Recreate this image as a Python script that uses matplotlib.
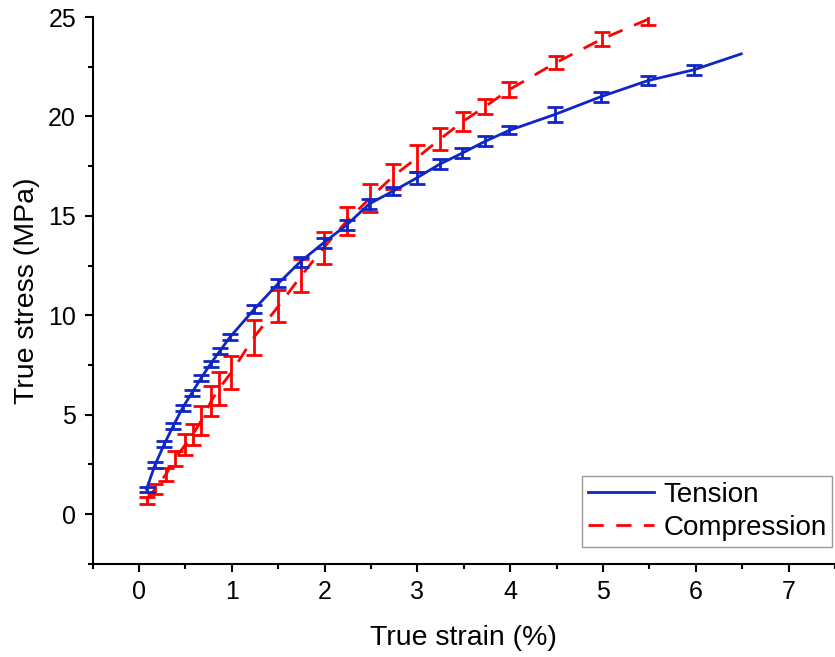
import numpy as np
import matplotlib
matplotlib.use("Agg")
import matplotlib.pyplot as plt
from matplotlib.ticker import MultipleLocator

plt.rcParams['font.family'] = ['Liberation Sans', 'DejaVu Sans']

# tension curve (blue), last point has no error bar
ten_x = [0.08, 0.17, 0.27, 0.37, 0.47, 0.57, 0.67, 0.77, 0.87, 0.98,
         1.24, 1.5, 1.74, 1.99, 2.24, 2.48, 2.74, 2.99, 3.24, 3.48,
         3.73, 3.99, 4.48, 4.98, 5.48, 5.98, 6.49]
ten_y = [1.25, 2.45, 3.5, 4.45, 5.35, 6.1, 6.85, 7.55, 8.2, 8.9,
         10.3, 11.6, 12.7, 13.65, 14.55, 15.6, 16.25, 16.9, 17.6, 18.15,
         18.75, 19.3, 20.1, 21.0, 21.8, 22.35, 23.15]
ten_err = [0.13, 0.15, 0.15, 0.15, 0.15, 0.15, 0.15, 0.15, 0.15, 0.15,
           0.2, 0.2, 0.25, 0.25, 0.25, 0.25, 0.2, 0.3, 0.25, 0.25,
           0.25, 0.2, 0.4, 0.25, 0.23, 0.25, np.nan]

# compression curve (red)
comp_x = [0.08, 0.17, 0.29, 0.39, 0.5, 0.58, 0.67, 0.78, 0.86, 0.99,
          1.24, 1.5, 1.75, 1.99, 2.24, 2.49, 2.74, 2.99, 3.24, 3.49,
          3.73, 3.99, 4.49, 4.99, 5.49]
comp_y = [0.68, 1.25, 2.0, 2.8, 3.5, 4.0, 4.7, 5.7, 6.3, 7.1,
          8.9, 10.45, 12.0, 13.4, 14.75, 15.9, 17.0, 17.9, 18.85, 19.75,
          20.5, 21.35, 22.7, 23.9, 24.9]
comp_err = [0.18, 0.25, 0.33, 0.37, 0.55, 0.55, 0.75, 0.75, 0.83, 0.83,
            0.88, 0.8, 0.83, 0.8, 0.7, 0.7, 0.63, 0.67, 0.55, 0.46,
            0.4, 0.37, 0.33, 0.33, 0.3]

blue = '#0f26c4'
red = '#ff0000'

fig = plt.figure(figsize=(8.35, 6.57), dpi=100)
ax = fig.add_axes([0.111, 0.142, 0.889, 0.832])

ax.plot(ten_x, ten_y, color=blue, lw=2.0, label='Tension', zorder=3)
ax.errorbar(ten_x, ten_y, yerr=ten_err, fmt='none', ecolor=blue,
            elinewidth=2.0, capsize=5.5, capthick=2.0, zorder=3)

ax.plot(comp_x, comp_y, color=red, lw=2.0, dashes=(5.5, 4.5),
        label='Compression', zorder=2)
ax.errorbar(comp_x, comp_y, yerr=comp_err, fmt='none', ecolor=red,
            elinewidth=2.0, capsize=5.5, capthick=2.0, zorder=2)

ax.set_xlim(-0.5, 7.5)
ax.set_ylim(-2.5, 25)
ax.xaxis.set_major_locator(MultipleLocator(1))
ax.xaxis.set_minor_locator(MultipleLocator(0.5))
ax.yaxis.set_major_locator(MultipleLocator(5))
ax.yaxis.set_minor_locator(MultipleLocator(2.5))

for s in ['top', 'right']:
    ax.spines[s].set_visible(False)
for s in ['left', 'bottom']:
    ax.spines[s].set_linewidth(1.5)

ax.tick_params(which='major', direction='out', length=6, width=1.5,
               labelsize=18, pad=6)
ax.tick_params(which='minor', direction='out', length=3.5, width=1.5)

ax.set_xlabel('True strain (%)', fontsize=20.5, labelpad=15)
ax.set_ylabel('True stress (MPa)', fontsize=20.5, labelpad=6)

leg = ax.legend(loc='lower right', bbox_to_anchor=(0.996, 0.031),
                borderaxespad=0, fontsize=20, frameon=True, fancybox=False,
                edgecolor='#999999', framealpha=1, handlelength=2.4,
                handletextpad=0.32, labelspacing=0.26, borderpad=0.2)
leg.get_frame().set_linewidth(1.0)

fig.savefig('out.png', dpi=100)
